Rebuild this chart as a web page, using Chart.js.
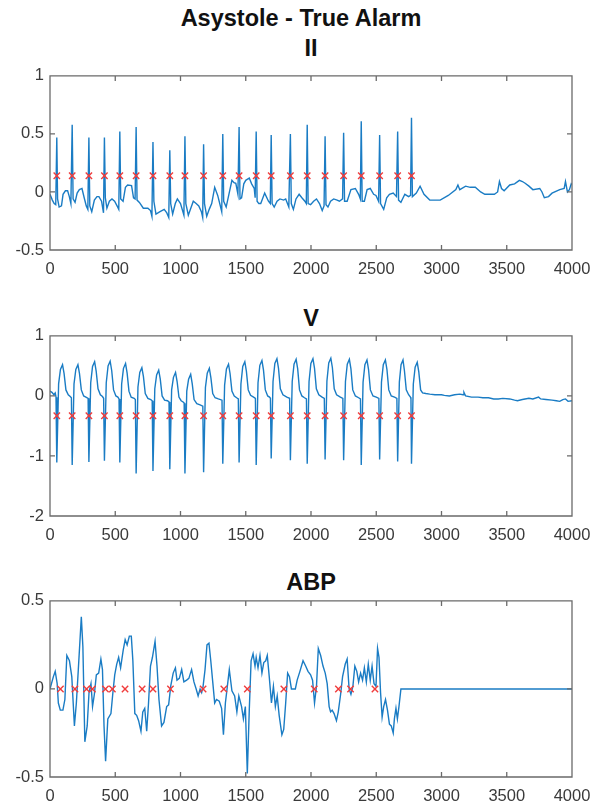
<!DOCTYPE html>
<html>
<head>
<meta charset="utf-8">
<script src="https://cdn.jsdelivr.net/npm/chart.js@4.4.1/dist/chart.umd.min.js"></script>
<style>
  html, body { margin: 0; padding: 0; background: #fff; }
  body { width: 602px; height: 804px; position: relative; overflow: hidden; font-family: "Liberation Sans", Arial, Helvetica, sans-serif; }
  canvas { position: absolute; left: 0; }
  .ttl { position: absolute; font-weight: bold; font-size: 23.5px; line-height: 28px; color: #111; text-align: center; white-space: nowrap; }
</style>
</head>
<body>
<div class="ttl" style="left:0; width:602px; top:4px;">Asystole - True Alarm</div>
<div class="ttl" style="left:50px; width:522px; top:34px;">II</div>
<div class="ttl" style="left:50px; width:522px; top:304px;">V</div>
<div class="ttl" style="left:50px; width:522px; top:568px;">ABP</div>
<canvas id="c1" width="602" height="220" style="top:60px"></canvas>
<canvas id="c2" width="602" height="225" style="top:320px"></canvas>
<canvas id="c3" width="602" height="219" style="top:585px"></canvas>
<script>
// ---------------- data ----------------
const xTicks = [0, 500, 1000, 1500, 2000, 2500, 3000, 3500, 4000];
const yTicksII = [-0.5, 0, 0.5, 1];
const yTicksV = [-2, -1, 0, 1];
const yTicksABP = [-0.5, 0, 0.5];

// beat annotation times (red x) for II and V
const beatX = [52, 170, 298, 417, 535, 660, 789, 918, 1034, 1177, 1324, 1449, 1580, 1695, 1842, 1971, 2108, 2250, 2385, 2526, 2664, 2770];
const iiMarkY = 0.14;
const vMarkY = -0.33;

// ABP annotation times
const abpMarkX = [80, 191, 280, 325, 425, 478, 575, 706, 789, 923, 1173, 1332, 1512, 1792, 2025, 2210, 2303, 2490];
const abpMarkY = 0;

const iiSignal = [
[0,-0.02],[18,-0.07],[32,-0.1],[44,-0.11],[52,0.47],[58,-0.06],[70,-0.13],[88,-0.12],[100,-0.02],[118,0.01],[135,0.01],[148,-0.04],[160,-0.1],
[170,0.58],[177,-0.06],[192,-0.09],[208,-0.01],[225,0.02],[245,0.03],[262,-0.05],[278,-0.12],[290,-0.15],
[298,0.47],[305,-0.12],[320,-0.17],[340,-0.07],[360,-0.04],[375,-0.04],[395,-0.08],[410,-0.18],
[417,0.47],[424,-0.05],[436,-0.14],[455,-0.08],[475,-0.06],[495,-0.08],[514,-0.12],[527,-0.15],
[535,0.52],[542,-0.06],[560,-0.08],[578,0.04],[595,0.06],[625,0.055],[640,-0.05],[652,-0.06],
[660,0.56],[667,-0.07],[685,-0.09],[715,-0.14],[750,-0.14],[770,-0.16],[781,-0.21],
[789,0.43],[796,-0.08],[812,-0.19],[843,-0.17],[875,-0.15],[895,-0.18],[910,-0.22],
[918,0.36],[925,-0.1],[940,-0.19],[960,-0.1],[976,-0.06],[1000,-0.1],[1026,-0.2],
[1034,0.48],[1041,-0.1],[1060,-0.2],[1098,-0.08],[1120,-0.1],[1140,-0.12],[1160,-0.17],[1170,-0.22],
[1177,0.41],[1184,-0.1],[1201,-0.21],[1220,-0.15],[1239,-0.1],[1262,0.04],[1285,-0.03],[1303,-0.11],[1316,-0.17],
[1324,0.50],[1331,-0.08],[1350,-0.13],[1375,0.0],[1394,0.1],[1410,0.08],[1424,0.075],[1440,-0.02],
[1449,0.56],[1456,-0.06],[1468,-0.05],[1485,0.07],[1500,0.1],[1527,0.12],[1545,0.07],[1565,0.03],[1572,-0.05],
[1580,0.52],[1587,-0.08],[1600,-0.1],[1615,-0.1],[1645,-0.01],[1674,-0.08],[1688,-0.1],
[1695,0.49],[1702,-0.1],[1718,-0.13],[1740,-0.08],[1762,-0.06],[1790,-0.07],[1806,-0.06],[1830,-0.13],
[1842,0.50],[1849,-0.1],[1865,-0.15],[1885,-0.06],[1909,-0.02],[1930,-0.05],[1953,-0.08],[1964,-0.1],
[1971,0.58],[1978,-0.1],[1997,-0.11],[2020,-0.08],[2042,-0.06],[2065,-0.1],[2086,-0.16],[2100,-0.12],
[2108,0.48],[2115,-0.11],[2130,-0.13],[2150,-0.08],[2174,-0.06],[2200,-0.07],[2218,-0.08],[2242,-0.06],
[2250,0.51],[2257,-0.08],[2277,-0.08],[2306,0.02],[2340,0.03],[2365,-0.02],[2378,-0.06],
[2385,0.61],[2392,-0.08],[2409,-0.08],[2430,0.02],[2454,0.03],[2480,-0.02],[2498,-0.03],[2518,-0.08],
[2526,0.49],[2533,-0.1],[2557,-0.15],[2580,-0.05],[2601,-0.02],[2630,-0.01],[2655,-0.04],
[2664,0.52],[2671,-0.07],[2689,-0.09],[2719,-0.02],[2748,-0.04],[2763,-0.03],
[2770,0.64],[2777,-0.04],[2807,-0.01],[2836,0.05],[2866,-0.02],[2910,-0.07],[2990,-0.07],[3052,-0.03],[3110,0.02],[3126,0.06],[3140,0.02],
[3185,0.05],[3220,0.04],[3259,0.04],[3300,0.0],[3332,-0.02],[3405,-0.02],[3430,0.0],[3444,0.09],[3460,0.03],[3480,0.01],[3523,0.06],[3560,0.07],
[3597,0.1],[3620,0.09],[3641,0.075],[3670,0.05],[3700,0.02],[3753,0.03],[3770,0.0],[3788,-0.05],[3820,-0.04],[3847,-0.01],[3906,0.02],[3940,0.03],
[3950,0.09],[3965,0.0],[3980,0.02],[3994,0.07],[4000,0.06]
];

const vSignal = [
[0,0.08],[15,0.06],[30,0.02],[40,0.05],[46,-0.02],
[52,-1.11],[66,0.2],[80,0.44],[96,0.52],[108,0.37],[122,0.1],[140,0.02],[155,-0.01],[164,-0.03],
[170,-1.15],[184,0.2],[198,0.44],[214,0.52],[226,0.37],[240,0.1],[258,0.0],[275,-0.02],[292,-0.04],
[298,-1.10],[312,0.22],[326,0.49],[342,0.57],[354,0.41],[368,0.12],[386,0.02],[402,-0.01],[411,-0.04],
[417,-1.08],[431,0.22],[445,0.5],[461,0.58],[473,0.42],[487,0.1],[505,0.0],[520,-0.02],[529,-0.05],
[535,-1.11],[549,0.2],[563,0.46],[579,0.54],[591,0.38],[605,0.08],[622,-0.02],[645,-0.04],[654,-0.06],
[660,-1.29],[674,0.15],[688,0.39],[704,0.47],[716,0.32],[730,0.04],[750,-0.04],[772,-0.06],[783,-0.08],
[789,-1.25],[803,0.12],[817,0.35],[833,0.43],[845,0.28],[859,0.0],[878,-0.07],[900,-0.08],[912,-0.1],
[918,-1.22],[932,0.1],[946,0.31],[962,0.39],[974,0.24],[988,-0.02],[1005,-0.08],[1020,-0.1],[1028,-0.12],
[1034,-1.29],[1048,0.08],[1062,0.28],[1078,0.36],[1090,0.2],[1104,-0.06],[1125,-0.13],[1150,-0.15],[1171,-0.17],
[1177,-1.27],[1191,0.14],[1205,0.38],[1221,0.46],[1233,0.3],[1247,0.04],[1265,-0.03],[1290,-0.05],[1318,-0.07],
[1324,-1.13],[1338,0.18],[1352,0.45],[1368,0.53],[1380,0.37],[1394,0.08],[1412,0.0],[1430,-0.03],[1443,-0.05],
[1449,-1.11],[1463,0.2],[1477,0.49],[1493,0.57],[1505,0.41],[1519,0.1],[1537,0.01],[1560,-0.02],[1574,-0.04],
[1580,-1.15],[1594,0.22],[1608,0.51],[1624,0.59],[1636,0.43],[1650,0.1],[1668,0.0],[1682,-0.02],[1689,-0.04],
[1695,-1.04],[1709,0.24],[1723,0.54],[1739,0.62],[1751,0.46],[1765,0.12],[1785,0.02],[1815,-0.02],[1836,-0.04],
[1842,-1.07],[1856,0.24],[1870,0.53],[1886,0.61],[1898,0.45],[1912,0.1],[1930,0.0],[1950,-0.03],[1965,-0.05],
[1971,-1.13],[1985,0.24],[1999,0.54],[2015,0.62],[2027,0.46],[2041,0.12],[2060,0.02],[2085,-0.02],[2102,-0.04],
[2108,-1.06],[2122,0.25],[2136,0.55],[2152,0.63],[2164,0.47],[2178,0.12],[2196,0.02],[2225,-0.02],[2244,-0.04],
[2250,-1.07],[2264,0.24],[2278,0.53],[2294,0.61],[2306,0.45],[2320,0.1],[2340,0.0],[2365,-0.03],[2379,-0.05],
[2385,-1.15],[2399,0.23],[2413,0.52],[2429,0.6],[2441,0.44],[2455,0.1],[2475,0.0],[2500,-0.02],[2520,-0.04],
[2526,-1.06],[2540,0.23],[2554,0.52],[2570,0.6],[2582,0.44],[2596,0.1],[2615,0.0],[2640,-0.02],[2658,-0.04],
[2664,-1.09],[2677,0.23],[2690,0.52],[2705,0.6],[2716,0.42],[2730,0.1],[2748,0.02],[2762,-0.02],[2766,-0.05],
[2770,-1.13],[2784,0.2],[2798,0.48],[2814,0.56],[2826,0.4],[2840,0.1],[2855,0.05],
[2880,0.04],[2910,0.03],[2950,0.02],[3000,0.02],[3022,0.01],[3060,0.0],[3100,0.02],[3140,0.03],[3165,0.02],[3172,0.06],[3185,0.0],
[3230,-0.02],[3280,-0.02],[3317,-0.03],[3360,-0.03],[3400,-0.05],[3435,-0.05],[3470,-0.04],[3523,-0.05],[3560,-0.07],[3582,-0.08],
[3620,-0.06],[3670,-0.04],[3700,-0.05],[3744,-0.02],[3760,-0.05],[3800,-0.06],[3847,-0.07],[3880,-0.08],[3906,-0.09],[3930,-0.06],
[3950,-0.05],[3970,-0.09],[4000,-0.08]
];

const abpSignal = [
[0,0],[26,0.07],[40,0.1],[55,0.03],[64,-0.08],[79,-0.12],[99,-0.12],[114,-0.06],[129,0.19],[149,0.16],[167,0.07],[187,-0.21],[202,-0.08],
[217,0.11],[240,0.41],[252,0.24],[267,-0.3],[285,-0.21],[299,-0.02],[314,0.03],[326,-0.1],[340,-0.03],[355,0.08],[373,0.09],[390,0.17],
[402,0.11],[414,-0.21],[426,-0.41],[443,-0.17],[467,-0.14],[482,-0.02],[496,0.08],[511,0.14],[526,0.18],[541,0.12],[561,0.22],[576,0.28],
[591,0.25],[608,0.3],[623,0.3],[635,0.16],[650,-0.14],[664,-0.15],[679,-0.18],[697,-0.24],[711,-0.13],[726,-0.11],[741,-0.24],[755,-0.08],
[770,0.13],[785,0.18],[805,0.27],[820,0.13],[835,-0.06],[855,-0.21],[873,-0.19],[894,-0.1],[909,-0.09],[926,0.02],[944,0.09],[961,0.12],
[973,0.05],[991,0.06],[1009,0.11],[1026,0.04],[1047,0.05],[1064,0.06],[1085,0.11],[1103,0.04],[1120,0.0],[1135,-0.04],[1150,0.0],
[1162,-0.02],[1173,0.015],[1188,0.11],[1203,0.25],[1218,0.26],[1232,0.16],[1247,0.04],[1262,-0.08],[1276,-0.06],[1297,-0.07],[1315,-0.11],
[1329,-0.26],[1344,-0.08],[1359,0.015],[1374,0.11],[1394,-0.01],[1415,-0.04],[1432,-0.13],[1447,-0.04],[1468,-0.1],[1482,-0.17],[1497,-0.1],
[1512,-0.48],[1527,-0.12],[1541,0.16],[1556,0.2],[1571,0.13],[1580,0.18],[1594,0.12],[1609,0.19],[1624,0.09],[1638,0.15],[1653,0.16],
[1665,0.19],[1680,0.07],[1697,-0.08],[1712,0.015],[1727,-0.1],[1741,-0.04],[1756,-0.15],[1777,-0.26],[1791,-0.23],[1806,-0.08],[1821,0.09],
[1835,0.07],[1850,0.0],[1865,0.0],[1880,0.0],[1894,0.05],[1915,0.1],[1939,0.16],[1959,0.13],[1977,0.1],[1997,0.08],[2012,0.05],[2027,-0.08],
[2042,0.015],[2056,0.23],[2074,0.19],[2092,0.13],[2109,0.09],[2124,0.03],[2139,-0.1],[2150,-0.13],[2162,-0.12],[2177,-0.14],[2195,-0.18],
[2209,-0.13],[2227,-0.03],[2242,0.07],[2262,0.14],[2277,0.17],[2292,0.0],[2306,-0.03],[2321,0.015],[2336,0.13],[2351,0.1],[2365,0.04],
[2380,0.09],[2395,0.05],[2409,0.12],[2424,0.04],[2439,0.14],[2454,0.05],[2468,0.13],[2483,0.03],[2498,0.015],[2510,0.23],[2521,0.18],
[2533,-0.02],[2545,-0.16],[2557,-0.1],[2571,-0.06],[2586,-0.12],[2601,-0.2],[2615,-0.21],[2630,-0.25],[2639,-0.17],[2651,-0.11],
[2662,-0.17],[2674,-0.1],[2689,0.0],[4000,0.0]
];

// ---------------- chart building ----------------
const LINE = '#1a7cc4';
const MARK = '#f03c3c';
const AXIS = '#6a6a6a';
const TXT = '#3a3a3a';
const FONT = { family: '"Liberation Sans", Arial, Helvetica, sans-serif', size: 16.5 };

const boxPlugin = {
  id: 'matlabBox',
  afterDatasetsDraw: function (chart) {
    const ctx = chart.ctx;
    const a = chart.chartArea;
    const xs = chart.scales.x, ys = chart.scales.y;
    ctx.save();
    ctx.strokeStyle = AXIS;
    ctx.lineWidth = 1.3;
    ctx.beginPath();
    ctx.rect(a.left, a.top, a.right - a.left, a.bottom - a.top);
    const tl = 5;
    xs.ticks.forEach(function (t) {
      const p = xs.getPixelForValue(t.value);
      ctx.moveTo(p, a.bottom); ctx.lineTo(p, a.bottom - tl);
      ctx.moveTo(p, a.top); ctx.lineTo(p, a.top + tl);
    });
    ys.ticks.forEach(function (t) {
      const p = ys.getPixelForValue(t.value);
      ctx.moveTo(a.left, p); ctx.lineTo(a.left + tl, p);
      ctx.moveTo(a.right, p); ctx.lineTo(a.right - tl, p);
    });
    ctx.stroke();
    ctx.restore();
  }
};
Chart.register(boxPlugin);

function toPts(arr) { return arr.map(p => ({ x: p[0], y: p[1] })); }
function markPts(xs, yv) { return xs.map(v => ({ x: v, y: yv })); }

function makeChart(id, signal, marks, yMin, yMax, yTicks, padTop, xHeight) {
  return new Chart(document.getElementById(id), {
    type: 'line',
    data: {
      datasets: [
        { type: 'scatter', data: marks, showLine: false, pointStyle: 'crossRot', pointRadius: 4.5,
          pointBorderColor: MARK, pointBackgroundColor: MARK, pointBorderWidth: 1.4, borderColor: MARK, order: 0 },
        { type: 'line', data: toPts(signal), borderColor: LINE, borderWidth: 1.4, pointRadius: 0, tension: 0, fill: false, order: 1 }
      ]
    },
    options: {
      responsive: false,
      animation: false,
      devicePixelRatio: 1,
      layout: { padding: { top: padTop, right: 30, bottom: 0, left: 0 } },
      plugins: { legend: { display: false }, tooltip: { enabled: false }, title: { display: false } },
      events: [],
      scales: {
        x: {
          type: 'linear', min: 0, max: 4000,
          afterBuildTicks: s => { s.ticks = xTicks.map(v => ({ value: v })); },
          afterFit: s => { s.height = xHeight; },
          grid: { display: false, drawTicks: false }, border: { display: false },
          ticks: { color: TXT, font: FONT, padding: 10, maxRotation: 0, autoSkip: false, callback: v => String(v) }
        },
        y: {
          type: 'linear', min: yMin, max: yMax,
          afterBuildTicks: s => { s.ticks = yTicks.map(v => ({ value: v })); },
          afterFit: s => { s.width = 50; },
          grid: { display: false, drawTicks: false }, border: { display: false },
          ticks: { color: TXT, font: FONT, padding: 6, autoSkip: false, callback: v => String(v) }
        }
      }
    }
  });
}

// chart 1: plot 72..250 ; chart 2: 329..516 ; chart 3: 599..777
makeChart('c1', iiSignal, markPts(beatX, iiMarkY), -0.5, 1, yTicksII, 12, 30);
makeChart('c2', vSignal, markPts(beatX, vMarkY), -2, 1, yTicksV, 9, 29);
makeChart('c3', abpSignal, markPts(abpMarkX, abpMarkY), -0.5, 0.5, yTicksABP, 14, 27);
</script>
</body>
</html>
